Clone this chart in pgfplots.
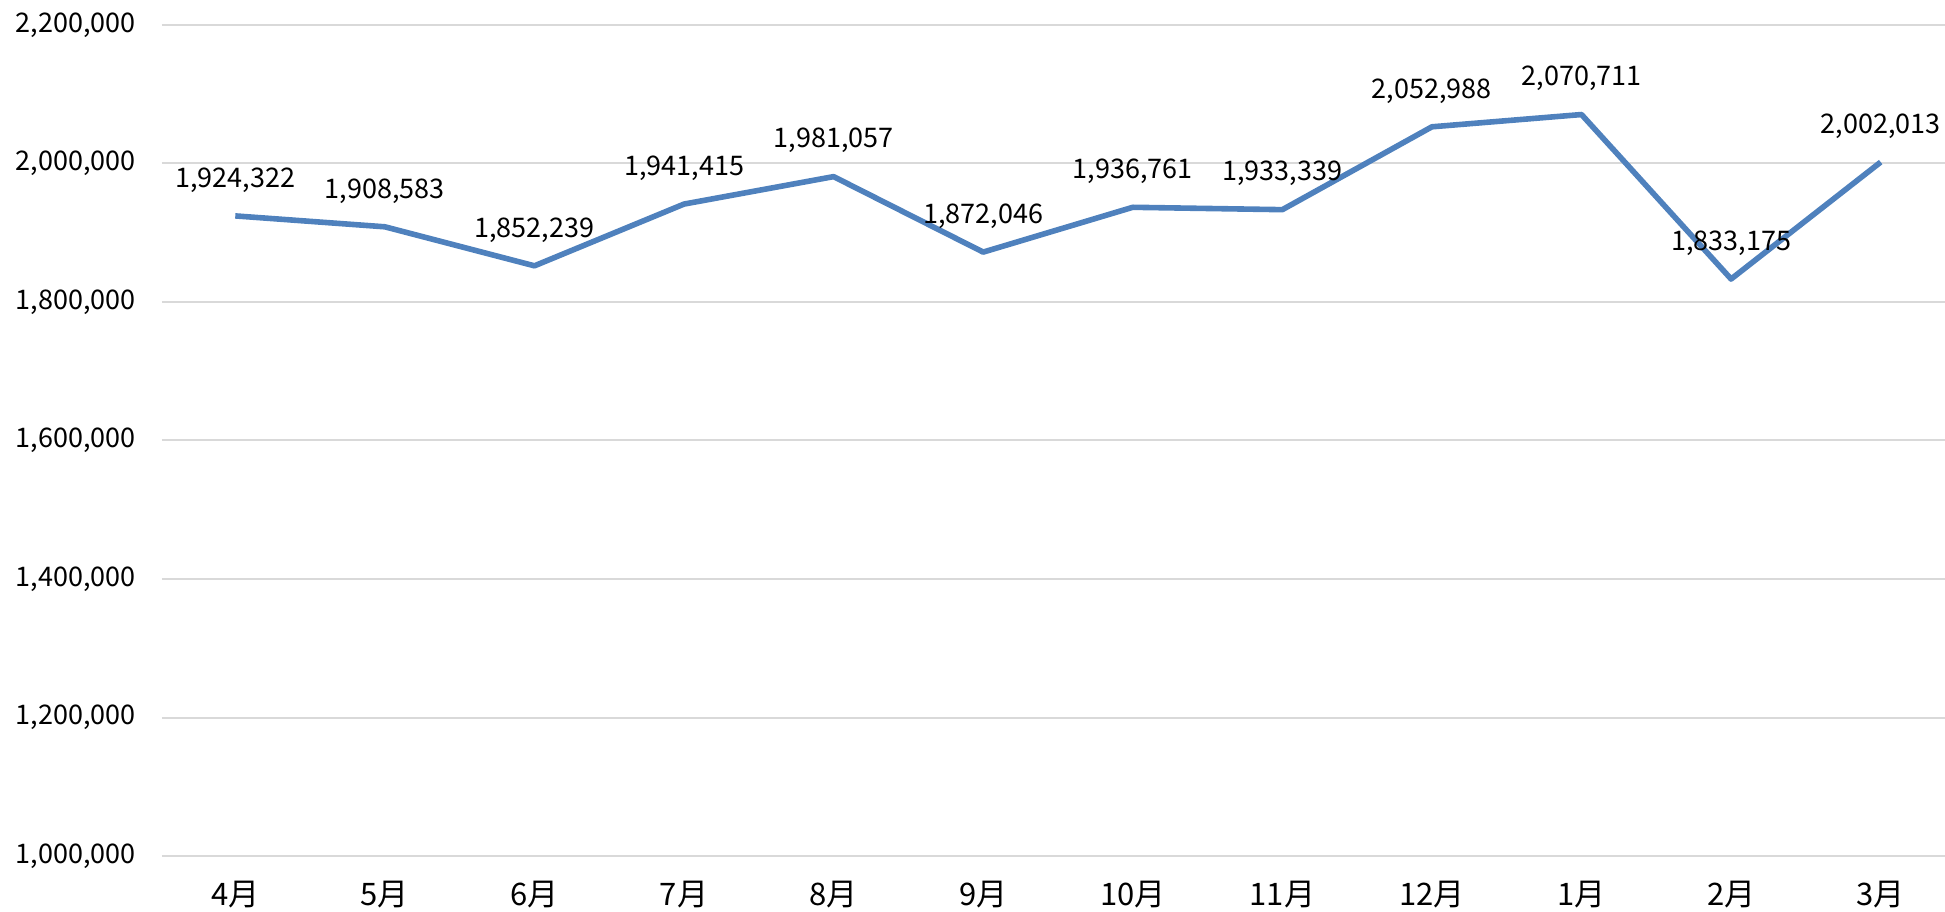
\documentclass[border=0pt]{standalone}
\usepackage{pgfplots}
\pgfplotsset{compat=1.18}
\usepackage{pgfplotstable}
\usepackage{fontspec}
\setmainfont{Noto Sans CJK JP}

\definecolor{lineblue}{RGB}{79,129,189}
\definecolor{gridgray}{RGB}{217,217,217}

% monthly totals, Apr -> Mar
\pgfplotstableread{
x y label
0 1924322 1,924,322
1 1908583 1,908,583
2 1852239 1,852,239
3 1941415 1,941,415
4 1981057 1,981,057
5 1872046 1,872,046
6 1936761 1,936,761
7 1933339 1,933,339
8 2052988 2,052,988
9 2070711 2,070,711
10 1833175 1,833,175
11 2002013 2,002,013
}\sales

\begin{document}
\fontsize{13.5pt}{16pt}\selectfont
\begin{tikzpicture}
\begin{axis}[
    at={(0,0)}, anchor=south west,
    scale only axis, width=891.5pt, height=415.5pt,
    xmin=-0.49, xmax=11.43,
    ymin=1000000, ymax=2200000,
    xtick={0,...,11},
    xticklabels={4月,5月,6月,7月,8月,9月,10月,11月,12月,1月,2月,3月},
    ytick={1000000,1200000,1400000,1600000,1800000,2000000,2200000},
    scaled y ticks=false,
    yticklabel style={xshift=-8.5pt},
    yticklabel style={/pgf/number format/.cd, fixed, 1000 sep={,}, assume math mode=true},
    xticklabel style={yshift=-8pt, font=\fontsize{15.5pt}{18pt}\selectfont},
    ymajorgrids,
    major grid style={gridgray, line width=1pt},
    axis line style={draw=none},
    major tick length=0pt,
    clip=false,
]
\addplot[lineblue, line width=2.8pt, line join=round, mark=none,
    nodes near coords, point meta=explicit symbolic,
    every node near coord/.append style={anchor=center, yshift=18pt, text=black}]
    table[x=x, y=y, meta=label]{\sales};
\end{axis}
\pgfresetboundingbox
\path[use as bounding box] (-81pt,-27.5pt) rectangle (891.5pt,428pt);
\end{tikzpicture}
\end{document}
